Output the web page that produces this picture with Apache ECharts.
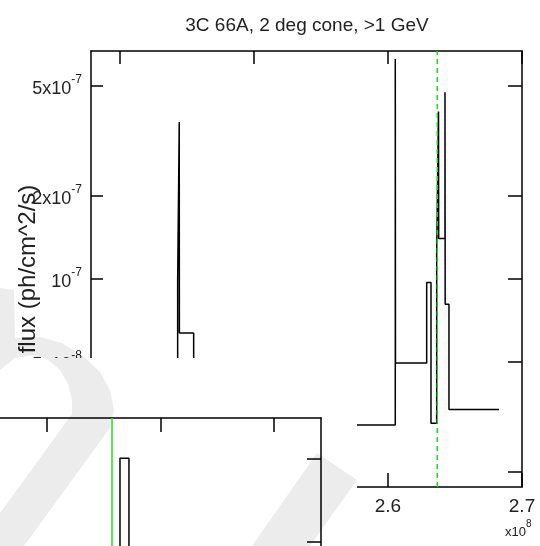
<!DOCTYPE html>
<html><head><meta charset="utf-8">
<script src="https://cdn.jsdelivr.net/npm/echarts@6/dist/echarts.min.js"></script>
<style>html,body{margin:0;padding:0;background:#fff}#c{width:540px;height:546px}</style>
</head><body><div id="c"></div>
<script>
// ---- main chart data (time in units of 1e8 s) ----
const titleText = '3C 66A, 2 deg cone, >1 GeV';
const yAxisName = 'flux (ph/cm^2/s)';
const binEdges = [2.380, 2.44306, 2.44425, 2.44435, 2.45500, 2.60545, 2.60560, 2.62888, 2.63209, 2.63634, 2.63769, 2.63784, 2.64254, 2.64269, 2.64552, 2.68284];
const binFlux  = [2.5e-8, 9.8e-8, 3.70e-7, 6.37e-8, 2.96e-8, 6.26e-7, 4.96e-8, 9.7e-8, 3.0e-8, 1.26e-7, 4.04e-7, 1.40e-7, 4.74e-7, 8.1e-8, 3.37e-8];
const markerTime = 2.63679;
const xTicks = [2.4, 2.5, 2.6, 2.7];
const yTicks = [2e-8, 5e-8, 1e-7, 2e-7, 5e-7];
const xRange = [2.3784, 2.7];
const yRange = [1.765e-8, 6.69e-7];
// ---- inset (partial second chart) ----
const insetEdges = [2.643, 2.722];
const insetValues = [2];
const insetMarker = 2.5727;
const insetXTicks = [0, 1, 2, 3, 4];
const insetYTicks = [0, 1, 2];
const insetXRange = [0, 4.414];
const insetYRange = [0, 2.483];

const L = Math.log10;
function stepPoints(edges, vals, f) {
  const pts = [];
  for (let i = 0; i < vals.length; i++) {
    pts.push([edges[i], f(vals[i])]);
    pts.push([edges[i + 1], f(vals[i])]);
  }
  return pts;
}
const mainPts = stepPoints(binEdges, binFlux, L);
const insetPts = [[insetEdges[0], insetYRange[0] - 1]].concat(stepPoints(insetEdges, insetValues, v => v)).concat([[insetEdges[insetEdges.length - 1], insetYRange[0] - 1]]);

function sciLabel(lv) {
  const e = Math.floor(lv + 1e-9);
  const m = Math.round(Math.pow(10, lv - e));
  return (m === 1 ? '{b|10}' : '{b|' + m + 'x10}') + '{s|' + e + '}';
}
const FONT = 'Liberation Sans, Arial, Helvetica, sans-serif';
const TXT = '#222';
const axLine = {show: true, onZero: false, lineStyle: {color: '#000', width: 1.5}};
const tick = (len, vals) => ({show: true, inside: true, length: len, lineStyle: {color: '#000', width: 1.5}, customValues: vals});

const chart = echarts.init(document.getElementById('c'), null, {renderer: 'canvas'});
chart.setOption({
  animation: false,
  backgroundColor: '#fff',
  title: {text: titleText, left: 302, top: 11, textAlign: 'center',
    textStyle: {fontFamily: FONT, fontSize: 19, fontWeight: 'normal', color: TXT}},
  grid: [
    {left: 91, top: 51, width: 431, height: 436, containLabel: false, outerBoundsMode: 'none'},
    {left: -180, top: 418, width: 501, height: 207.1, containLabel: false, outerBoundsMode: 'none', z: 110}
  ],
  xAxis: [
    {type: 'value', gridIndex: 0, position: 'bottom', min: xRange[0], max: xRange[1],
      axisLine: axLine, axisTick: tick(14, xTicks), splitLine: {show: false},
      axisLabel: {customValues: xTicks, margin: 10, fontFamily: FONT, fontSize: 19, color: TXT,
        formatter: v => v.toFixed(1)}},
    {type: 'value', gridIndex: 0, position: 'top', min: xRange[0], max: xRange[1],
      axisLine: axLine, axisTick: tick(13, xTicks), axisLabel: {show: false}, splitLine: {show: false}},
    {type: 'value', gridIndex: 1, position: 'top', min: insetXRange[0], max: insetXRange[1], z: 110,
      axisLine: axLine, axisTick: tick(14, insetXTicks), axisLabel: {show: false}, splitLine: {show: false}}
  ],
  yAxis: [
    {type: 'value', gridIndex: 0, position: 'left', min: L(yRange[0]), max: L(yRange[1]),
      name: yAxisName, nameLocation: 'middle', nameRotate: 90, nameGap: 51, nameMoveOverlap: false,
      nameTextStyle: {fontFamily: FONT, fontSize: 24, color: TXT},
      axisLine: axLine, axisTick: tick(12, yTicks.map(L)), splitLine: {show: false},
      axisLabel: {customValues: yTicks.map(L), margin: 9, formatter: sciLabel,
        rich: {b: {fontFamily: FONT, fontSize: 18, color: TXT, lineHeight: 24, verticalAlign: 'bottom'},
               s: {fontFamily: FONT, fontSize: 12, color: TXT, lineHeight: 24, verticalAlign: 'top', padding: [0, 0, 8, 0]}}}},
    {type: 'value', gridIndex: 0, position: 'right', min: L(yRange[0]), max: L(yRange[1]),
      axisLine: axLine, axisTick: tick(14, yTicks.map(L)), axisLabel: {show: false}, splitLine: {show: false}},
    {type: 'value', gridIndex: 1, position: 'right', min: insetYRange[0], max: insetYRange[1], z: 110,
      axisLine: axLine, axisTick: tick(14, insetYTicks), axisLabel: {show: false}, splitLine: {show: false}}
  ],
  graphic: {elements: [
    {type: 'rect', z: 100, silent: true, shape: {x: 0, y: 358, width: 357, height: 188}, style: {fill: '#fff'}},
    {type: 'polygon', z: 101, silent: true, shape: {points: [[0,288],[14,290],[15,338],[40,337],[62,343],[83,356],[100,372],[110,390],[114,410],[110,428],[24,546],[0,546],[0,513],[72,414],[72,400],[68,384],[60,370],[48,360],[33,355],[15,358],[0,370]]},
      style: {fill: 'rgba(0,0,0,0.075)'}},
    {type: 'polygon', z: 101, silent: true, shape: {points: [[317,453],[357,480],[310,546],[252,546]]},
      style: {fill: 'rgba(0,0,0,0.075)'}},
    {type: 'text', z: 5, x: 505, y: 519, style: {text: '{b|x10}{s|8}', rich: {
      b: {fontFamily: FONT, fontSize: 13, fill: TXT, lineHeight: 20, verticalAlign: 'bottom'},
      s: {fontFamily: FONT, fontSize: 10, fill: TXT, lineHeight: 20, verticalAlign: 'top', padding: [0,0,8,0]}}}}
  ]},
  series: [
    {type: 'line', xAxisIndex: 0, yAxisIndex: 0, data: mainPts, showSymbol: false, symbol: 'none', clip: true,
      lineStyle: {color: '#000', width: 1.5}, z: 2},
    {type: 'line', xAxisIndex: 0, yAxisIndex: 0, data: [[markerTime, L(yRange[0])], [markerTime, L(yRange[1])]],
      showSymbol: false, symbol: 'none', lineStyle: {color: '#10dd10', width: 1.5, type: [5, 4]}, z: 3},
    {type: 'line', xAxisIndex: 2, yAxisIndex: 2, data: insetPts, showSymbol: false, symbol: 'none', clip: true,
      lineStyle: {color: '#000', width: 1.5}, z: 111},
    {type: 'line', xAxisIndex: 2, yAxisIndex: 2, data: [[insetMarker, insetYRange[0]], [insetMarker, insetYRange[1]]],
      showSymbol: false, symbol: 'none', lineStyle: {color: '#22e022', width: 1.5}, z: 111}
  ]
});
</script></body></html>
